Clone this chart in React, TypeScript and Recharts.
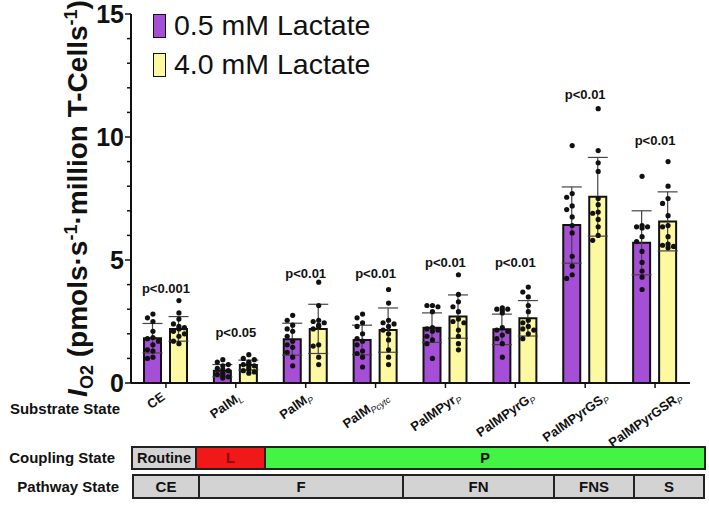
import React from 'react';
import { ComposedChart, Bar, Scatter, XAxis, YAxis, ErrorBar, Legend } from 'recharts';

// substrate states along the x axis (base text + subscript)
const substrateBase = ['CE', 'PalM', 'PalM', 'PalM', 'PalMPyr', 'PalMPyrG', 'PalMPyrGS', 'PalMPyrGSR'];
const substrateSub = ['', 'L', 'P', 'Pcytc', 'P', 'P', 'P', 'P'];

// group means and SD (pmol/s per million T cells)
const meanLow = [1.82, 0.5, 1.78, 1.75, 2.25, 2.18, 6.42, 5.7];
const meanHigh = [2.2, 0.73, 2.2, 2.15, 2.7, 2.63, 7.57, 6.57];
const sdLow = [0.6, 0.25, 0.65, 0.6, 0.6, 0.62, 1.55, 1.3];
const sdHigh = [0.5, 0.2, 1.0, 0.9, 0.88, 0.72, 1.6, 1.2];

// individual replicates, 0.5 mM lactate
const pointsLow = [
  [2.8, 2.65, 2.5, 2.1, 1.85, 1.8, 1.7, 1.55, 1.35, 1.3, 1.05, 1.0],
  [0.95, 0.85, 0.75, 0.7, 0.6, 0.55, 0.5, 0.4, 0.35, 0.3, 0.25, 0.2],
  [2.75, 2.55, 2.35, 2.2, 2.1, 1.9, 1.7, 1.55, 1.45, 1.25, 1.05, 0.7],
  [2.8, 2.65, 2.45, 2.3, 2.0, 1.8, 1.7, 1.55, 1.3, 1.2, 1.05, 0.65],
  [3.15, 3.15, 3.1, 2.9, 2.25, 2.2, 2.15, 2.1, 1.9, 1.75, 1.6, 1.0],
  [3.05, 3.0, 3.0, 2.95, 2.85, 2.25, 2.15, 2.1, 1.95, 1.8, 1.6, 1.05],
  [9.65, 7.7, 7.55, 7.2, 7.05, 6.75, 6.4, 6.1, 5.15, 4.75, 4.4, 4.25],
  [8.4, 6.4, 6.35, 6.35, 6.3, 5.95, 5.75, 5.35, 4.9, 4.55, 4.3, 3.8],
];

// individual replicates, 4.0 mM lactate
const pointsHigh = [
  [3.35, 2.85, 2.6, 2.4, 2.3, 2.25, 2.2, 2.1, 2.0, 1.9, 1.7, 1.6],
  [1.15, 1.0, 0.95, 0.85, 0.8, 0.75, 0.7, 0.65, 0.55, 0.5, 0.45, 0.4],
  [4.1, 3.15, 2.55, 2.5, 2.45, 2.35, 2.3, 2.2, 1.55, 1.5, 1.05, 0.75],
  [3.8, 3.25, 2.55, 2.45, 2.4, 2.3, 2.15, 2.0, 1.75, 1.35, 1.05, 0.75],
  [4.4, 3.6, 3.3, 3.1, 2.9, 2.6, 2.5, 2.45, 2.15, 1.9, 1.6, 1.35],
  [3.9, 3.7, 3.5, 3.15, 2.9, 2.55, 2.45, 2.3, 2.2, 2.15, 2.0, 1.8],
  [11.15, 9.45, 8.95, 8.6, 7.5, 7.25, 6.95, 6.9, 6.65, 6.35, 6.0, 5.8],
  [9.0, 8.0, 7.5, 7.3, 6.8, 6.4, 6.35, 5.95, 5.65, 5.6, 5.55, 5.5],
];

const pLabels = ['p<0.001', 'p<0.05', 'p<0.01', 'p<0.01', 'p<0.01', 'p<0.01', 'p<0.01', 'p<0.01'];
const pLabelAt = [3.85, 2.07, 4.47, 4.47, 4.89, 4.89, 11.75, 9.85];

const yTicks = [0, 1, 2, 3, 4, 5, 6, 7, 8, 9, 10, 11, 12, 13, 14, 15];

const seriesNames = ['0.5 mM Lactate', '4.0 mM Lactate'];

const couplingStates = ['Routine', 'L', 'P'];
const pathwayStates = ['CE', 'F', 'FN', 'FNS', 'S'];

const PURPLE = '#a44fd6';
const YELLOW = '#fcf9a0';
const INK = '#111';
const FONT = '"Liberation Sans", Arial, sans-serif';

const rows = substrateBase.map((b, i) => ({
  key: b + substrateSub[i],
  low: meanLow[i],
  high: meanHigh[i],
  lowSd: sdLow[i],
  highSd: sdHigh[i],
}));

// spread overlapping replicate dots sideways inside their bar
const BAR_SHIFT = 13;
const DOT_STEP = 5.5;
const PX_PER_UNIT = 24.6;
const swarm = (vals: number[]) => {
  const placed: { x: number; y: number }[] = [];
  return vals.map((v) => {
    const y = v * PX_PER_UNIT;
    let best = 0;
    for (const c of [0, -1, 1, -0.5, 0.5]) {
      const x = c * DOT_STEP;
      if (placed.every((p) => Math.hypot(p.x - x, p.y - y) >= 5.2)) {
        best = x;
        break;
      }
    }
    placed.push({ x: best, y });
    return best;
  });
};

const toDots = (groups: number[][], side: number) =>
  groups.flatMap((vals, i) => {
    const offs = swarm(vals);
    return vals.map((v, j) => ({ x: i + 0.5, y: v, dx: side * BAR_SHIFT + offs[j] }));
  });

const dotsLow = toDots(pointsLow, -1);
const dotsHigh = toDots(pointsHigh, 1);
const pData = pLabels.map((label, i) => ({ x: i + 0.5, y: pLabelAt[i], label }));

// text width, used to hang the slanted category labels from the axis
const measureCtx = typeof document !== 'undefined' ? document.createElement('canvas').getContext('2d') : null;
const textWidth = (s: string, font: string) => {
  if (!s) return 0;
  if (!measureCtx) return s.length * 8;
  measureCtx.font = font;
  return measureCtx.measureText(s).width;
};

const Dot = (props: any) => (
  <circle cx={props.cx + props.payload.dx} cy={props.cy} r={2.6} fill={INK} />
);

const PText = (props: any) => (
  <text x={props.cx} y={props.cy} dy="0.35em" textAnchor="middle" fontSize={13} fontWeight={700} fill={INK}>
    {props.payload.label}
  </text>
);

const LABEL_ANGLE = 35;
const SubstrateTick = ({ x, y, payload }: any) => {
  const i = rows.findIndex((r) => r.key === payload.value);
  const base = substrateBase[i];
  const sub = substrateSub[i];
  const len = textWidth(base, 'bold 13px "Liberation Sans"') + textWidth(sub, 'italic 9px "Liberation Sans"');
  const rad = (LABEL_ANGLE * Math.PI) / 180;
  const boxH = len * Math.sin(rad) + 10 * Math.cos(rad);
  const cx = x - 10;
  const cy = y + 1 + boxH / 2;
  return (
    <g transform={`translate(${cx},${cy})`}>
      <text transform={`rotate(-${LABEL_ANGLE})`} textAnchor="middle" dy={4.5} fontSize={13} fontWeight={700} fill={INK}>
        {base}
        {sub && (
          <tspan fontSize={9} fontStyle="italic" fontWeight={400} dy={3}>
            {sub}
          </tspan>
        )}
      </text>
    </g>
  );
};

const LevelTick = ({ x, y, payload }: any) => {
  const major = payload.value % 5 === 0;
  return (
    <g>
      <line x1={x} x2={x - (major ? 6 : 4)} y1={y} y2={y} stroke={INK} strokeWidth={1.5} />
      {major && (
        <text x={x - 7} y={y} dy="0.36em" textAnchor="end" fontSize={25} fontWeight={700} fill={INK}>
          {payload.value}
        </text>
      )}
    </g>
  );
};

const YTitle = ({ viewBox }: any) => {
  const cy = viewBox.y + viewBox.height / 2;
  return (
    <text transform={`translate(87,${cy}) rotate(-90)`} textAnchor="middle" fontSize={28} fontWeight={700} fill={INK}>
      <tspan fontStyle="italic">I</tspan>
      <tspan fontSize={18} dy={6}>O2</tspan>
      <tspan dy={-6}> (pmols·s</tspan>
      <tspan fontSize={18} dy={-10}>-1</tspan>
      <tspan dy={10}>·million T-Cells</tspan>
      <tspan fontSize={18} dy={-10}>-1</tspan>
      <tspan dy={10}>)</tspan>
    </text>
  );
};

const LegendBox = () => (
  <div style={{ fontFamily: FONT, fontSize: 28.5, color: INK, lineHeight: 1 }}>
    {seriesNames.map((name, i) => (
      <div key={name} style={{ display: 'flex', alignItems: 'center', height: 39 }}>
        <span
          style={{
            display: 'inline-block',
            width: 11,
            height: 22,
            background: i === 0 ? PURPLE : YELLOW,
            border: `1.5px solid ${INK}`,
            marginRight: 8,
          }}
        />
        {name}
      </div>
    ))}
  </div>
);

const cellStyle = (bg: string, first: boolean, w: number): React.CSSProperties => ({
  width: w,
  background: bg,
  borderLeft: first ? 'none' : `2px solid #222`,
  display: 'flex',
  alignItems: 'center',
  justifyContent: 'center',
  boxSizing: 'border-box',
});

const couplingWidths = [62, 69, 440];
const couplingFills = ['#d3d3d3', '#f01818', '#44f444'];
const couplingInk = [INK, '#8a0b0b', INK];
const pathwayWidths = [64, 204, 151, 80, 70];

const rowLabel: React.CSSProperties = {
  position: 'absolute',
  width: 118,
  textAlign: 'right',
  fontSize: 15,
  fontWeight: 700,
  color: INK,
};

export default function App() {
  return (
    <div style={{ position: 'absolute', left: 0, top: 0, width: 709, height: 529, background: '#fff', fontFamily: FONT }}>
      <ComposedChart
        width={709}
        height={529}
        data={rows}
        margin={{ top: 14, right: 19, left: 0, bottom: 86 }}
        barGap={9}
      >
        <XAxis
          xAxisId="cat"
          dataKey="key"
          interval={0}
          height={60}
          axisLine={{ stroke: INK, strokeWidth: 2 }}
          tickLine={{ stroke: INK, strokeWidth: 1.5 }}
          tickSize={5}
          tick={<SubstrateTick />}
        />
        <XAxis xAxisId="num" type="number" dataKey="x" domain={[0, 8]} allowDataOverflow hide />
        <YAxis
          type="number"
          domain={[0, 15]}
          ticks={yTicks}
          interval={0}
          width={131}
          tickSize={0}
          tickMargin={0}
          tickLine={false}
          axisLine={{ stroke: INK, strokeWidth: 2 }}
          tick={<LevelTick />}
          label={{ content: YTitle }}
        />
        <Legend
          layout="vertical"
          align="center"
          verticalAlign="middle"
          wrapperStyle={{ top: 6, left: 153, width: 280 }}
          content={<LegendBox />}
        />
        <Bar xAxisId="cat" dataKey="low" name={seriesNames[0]} fill={PURPLE} stroke={INK} strokeWidth={2} barSize={17} isAnimationActive={false}>
          <ErrorBar dataKey="lowSd" width={10} stroke="#444" strokeWidth={1.2} />
        </Bar>
        <Bar xAxisId="cat" dataKey="high" name={seriesNames[1]} fill={YELLOW} stroke={INK} strokeWidth={2} barSize={17} isAnimationActive={false}>
          <ErrorBar dataKey="highSd" width={10} stroke="#444" strokeWidth={1.2} />
        </Bar>
        <Scatter xAxisId="num" data={dotsLow} dataKey="y" shape={<Dot />} isAnimationActive={false} />
        <Scatter xAxisId="num" data={dotsHigh} dataKey="y" shape={<Dot />} isAnimationActive={false} />
        <Scatter xAxisId="num" data={pData} dataKey="y" shape={<PText />} isAnimationActive={false} />
      </ComposedChart>

      <div style={{ ...rowLabel, left: 2, top: 400 }}>Substrate State</div>

      <div style={{ ...rowLabel, left: -3, top: 449 }}>Coupling State</div>
      <div
        style={{
          position: 'absolute',
          left: 131,
          top: 446,
          height: 24,
          display: 'flex',
          border: '2px solid #222',
          boxSizing: 'border-box',
          fontSize: 14.5,
          fontWeight: 700,
        }}
      >
        {couplingStates.map((s, i) => (
          <div key={s} style={{ ...cellStyle(couplingFills[i], i === 0, couplingWidths[i]), color: couplingInk[i] }}>
            {s}
          </div>
        ))}
      </div>

      <div style={{ ...rowLabel, left: 1, top: 478 }}>Pathway State</div>
      <div
        style={{
          position: 'absolute',
          left: 132,
          top: 474,
          height: 25,
          display: 'flex',
          border: '2px solid #222',
          boxSizing: 'border-box',
          fontSize: 15,
          fontWeight: 700,
        }}
      >
        {pathwayStates.map((s, i) => (
          <div key={s} style={{ ...cellStyle('#d3d3d3', i === 0, pathwayWidths[i]), color: INK }}>
            {s}
          </div>
        ))}
      </div>
    </div>
  );
}
